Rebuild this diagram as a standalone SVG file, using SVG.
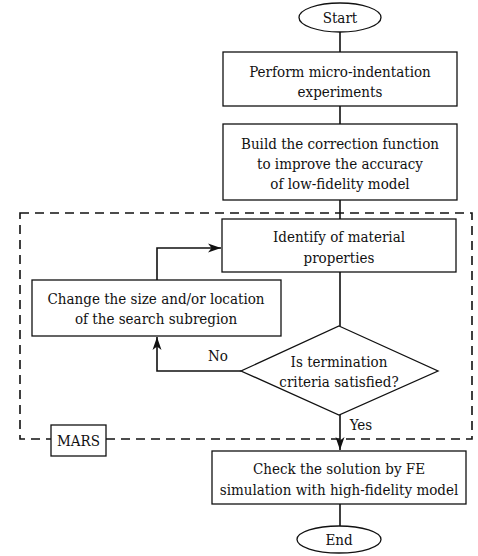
<svg xmlns="http://www.w3.org/2000/svg" width="478" height="556" viewBox="0 0 478 556">
<style>
.n{fill:#fff;stroke:#111;stroke-width:1.3}
.t{font-family:'DejaVu Serif Condensed','DejaVu Serif',serif;font-stretch:condensed;font-size:15px;fill:#111;text-anchor:middle}
.c{fill:none;stroke:#111;stroke-width:1.6}
.d{fill:none;stroke:#111;stroke-width:1.6;stroke-dasharray:9 6}
</style>
<defs>
<marker id="ah" markerWidth="14" markerHeight="10" refX="13" refY="5" orient="auto" markerUnits="userSpaceOnUse">
<path d="M0,0.5 L13,5 L0,9.5 L3.5,5 Z" fill="#111"/>
</marker>
</defs>
<rect width="478" height="556" fill="#fff"/>
<g id="mars-region">
<rect class="d" x="20" y="213" width="452" height="226"/>
</g>
<g id="connectors">
<line class="c" x1="340" y1="32" x2="340" y2="52"/>
<line class="c" x1="340" y1="106" x2="340" y2="124"/>
<line class="c" x1="340" y1="200" x2="340" y2="219"/>
<line class="c" x1="340" y1="272" x2="340" y2="326"/>
<polyline class="c" points="241,371 157,371 157,337" marker-end="url(#ah)"/>
<polyline class="c" points="157,280 157,248 221,248" marker-end="url(#ah)"/>
<line class="c" x1="340" y1="415" x2="340" y2="450" marker-end="url(#ah)"/>
<line class="c" x1="340" y1="504" x2="340" y2="526"/>
<text class="t" x="218" y="361">No</text>
<text class="t" x="361" y="430">Yes</text>
</g>
<g id="start">
<ellipse class="n" cx="340" cy="17.5" rx="41" ry="14.5"/>
<text class="t" x="340" y="23">Start</text>
</g>
<g id="experiments">
<rect class="n" x="223" y="52" width="234" height="54"/>
<text class="t" x="340" y="77">Perform micro-indentation</text>
<text class="t" x="340" y="97">experiments</text>
</g>
<g id="correction">
<rect class="n" x="223" y="124" width="234" height="76"/>
<text class="t" x="340" y="149">Build the correction function</text>
<text class="t" x="340" y="169">to improve the accuracy</text>
<text class="t" x="340" y="189">of low-fidelity model</text>
</g>
<g id="identify">
<rect class="n" x="222" y="219" width="234" height="53"/>
<text class="t" x="339" y="242">Identify of material</text>
<text class="t" x="339" y="263">properties</text>
</g>
<g id="change">
<rect class="n" x="32" y="280" width="249" height="56"/>
<text class="t" x="156" y="304">Change the size and/or location</text>
<text class="t" x="156" y="324">of the search subregion</text>
</g>
<g id="decision">
<polygon class="n" points="339,326 438,371 339,415 241,371"/>
<text class="t" x="339" y="367">Is termination</text>
<text class="t" x="339" y="387">criteria satisfied?</text>
</g>
<g id="mars">
<rect class="n" x="51" y="425" width="55" height="31"/>
<text class="t" x="78.5" y="446">MARS</text>
</g>
<g id="check">
<rect class="n" x="212" y="451" width="254" height="53"/>
<text class="t" x="339" y="474">Check the solution by FE</text>
<text class="t" x="339" y="495">simulation with high-fidelity model</text>
</g>
<g id="end">
<ellipse class="n" cx="339" cy="539.5" rx="42" ry="13.5"/>
<text class="t" x="339" y="545">End</text>
</g>
</svg>
